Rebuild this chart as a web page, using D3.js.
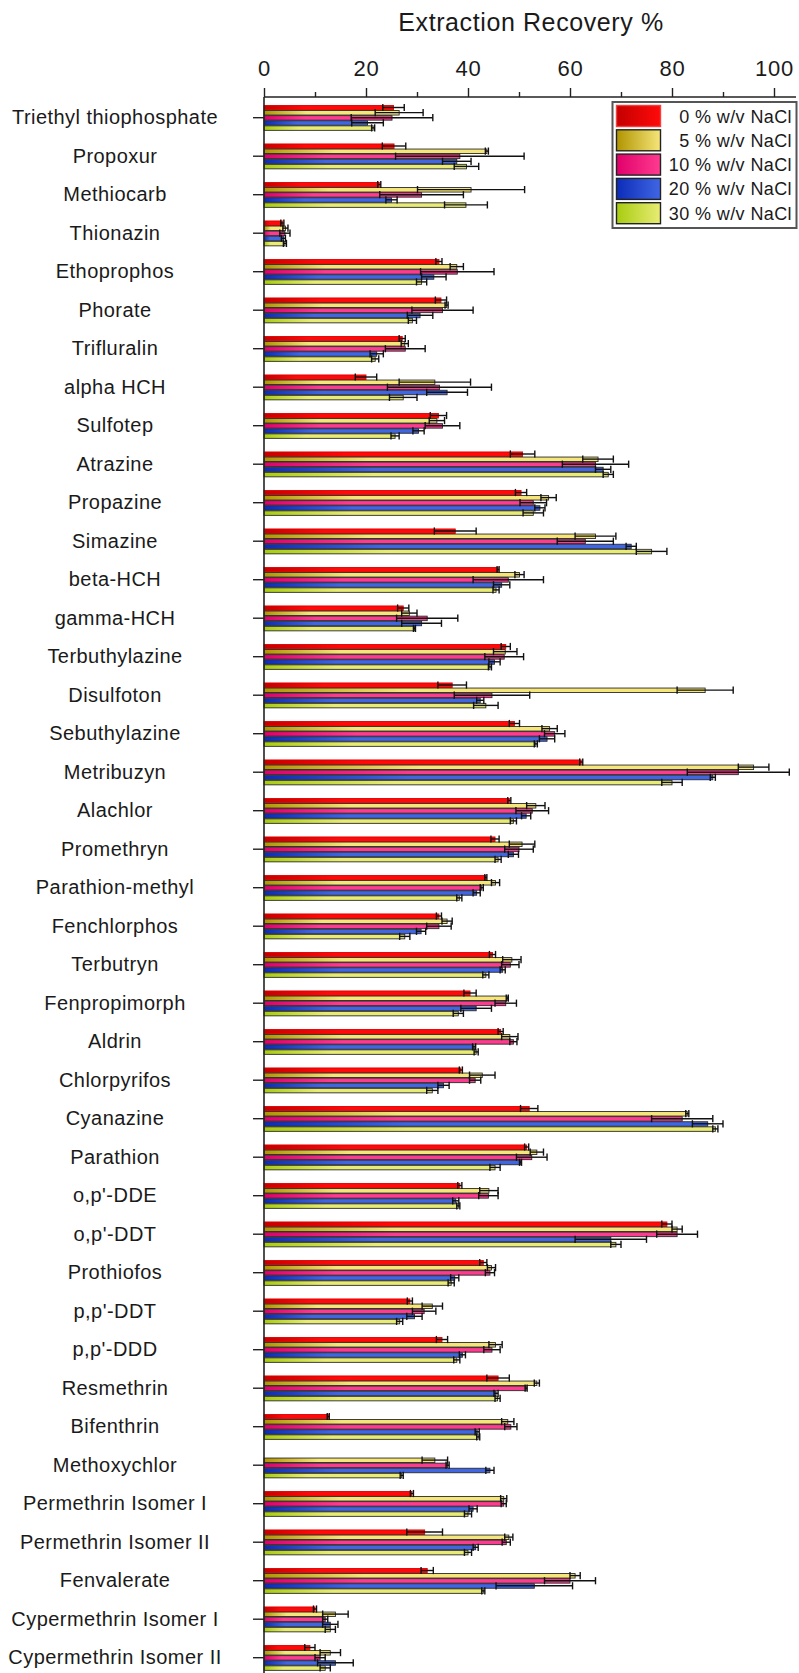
<!DOCTYPE html>
<html>
<head>
<meta charset="utf-8">
<script src="https://cdn.jsdelivr.net/npm/d3@7/dist/d3.min.js"></script>
<style>
  html, body { margin: 0; padding: 0; background: #fff; }
  svg { display: block; font-family: "Liberation Sans", Arial, sans-serif; }
</style>
</head>
<body>
<svg id="chart" width="799" height="1673"></svg>
<script>
// Pesticide list, top to bottom
const categories = [
  "Triethyl thiophosphate", "Propoxur", "Methiocarb", "Thionazin", "Ethoprophos",
  "Phorate", "Trifluralin", "alpha HCH", "Sulfotep", "Atrazine",
  "Propazine", "Simazine", "beta-HCH", "gamma-HCH", "Terbuthylazine",
  "Disulfoton", "Sebuthylazine", "Metribuzyn", "Alachlor", "Promethryn",
  "Parathion-methyl", "Fenchlorphos", "Terbutryn", "Fenpropimorph", "Aldrin",
  "Chlorpyrifos", "Cyanazine", "Parathion", "o,p'-DDE", "o,p'-DDT",
  "Prothiofos", "p,p'-DDT", "p,p'-DDD", "Resmethrin", "Bifenthrin",
  "Methoxychlor", "Permethrin Isomer I", "Permethrin Isomer II", "Fenvalerate",
  "Cypermethrin Isomer I", "Cypermethrin Isomer II"
];

const seriesNames = ["0 % w/v NaCl", "5 % w/v NaCl", "10 % w/v NaCl", "20 % w/v NaCl", "30 % w/v NaCl"];

// Mean extraction recovery (%) per salt level
const nacl0 = [25.4, 25.5, 22.6, 3.6, 34.3, 34.7, 27.1, 20.0, 34.2, 50.7,
  50.4, 37.5, 45.9, 27.3, 47.4, 36.9, 49.1, 62.2, 48.1, 45.3,
  43.5, 34.3, 44.8, 40.4, 46.4, 38.6, 52.0, 51.5, 38.4, 79.0,
  43.0, 28.6, 34.9, 45.9, 12.6, 0.0, 29.0, 31.5, 32.0, 10.0, 9.0];
const nacl5 = [26.5, 43.7, 40.6, 4.2, 37.8, 35.8, 27.6, 33.5, 33.9, 65.5,
  55.8, 65.0, 50.1, 28.5, 47.3, 86.5, 56.0, 96.0, 53.3, 50.6,
  45.4, 35.9, 48.6, 47.7, 48.2, 42.8, 83.0, 53.5, 44.1, 81.0,
  44.6, 33.0, 45.4, 53.5, 47.8, 33.5, 47.0, 48.0, 61.0, 14.0, 13.0];
const nacl10 = [25.1, 38.4, 30.9, 4.1, 37.9, 35.0, 27.7, 34.4, 35.0, 65.0,
  52.8, 63.0, 47.9, 32.0, 47.1, 44.7, 57.0, 93.0, 52.6, 50.0,
  42.7, 34.3, 48.3, 47.4, 48.9, 41.4, 82.0, 52.5, 44.0, 81.0,
  44.3, 31.4, 44.7, 51.4, 48.4, 36.0, 47.0, 47.5, 60.0, 12.0, 11.0];
const nacl20 = [20.3, 37.8, 25.0, 3.8, 33.3, 30.6, 22.1, 35.9, 30.3, 66.5,
  54.1, 72.0, 46.6, 30.9, 45.2, 42.4, 55.5, 88.0, 51.4, 48.9,
  41.7, 30.8, 46.8, 41.6, 41.2, 35.2, 87.0, 50.3, 37.6, 68.0,
  37.4, 29.5, 38.9, 45.5, 41.8, 44.3, 41.0, 41.5, 53.0, 13.0, 14.0];
const nacl30 = [21.4, 39.7, 39.6, 4.1, 30.9, 29.1, 21.8, 27.3, 25.7, 67.5,
  52.8, 76.0, 45.5, 29.5, 44.3, 43.5, 53.3, 80.0, 48.9, 45.9,
  38.3, 27.6, 43.5, 38.1, 41.6, 33.0, 88.5, 45.3, 38.1, 69.0,
  36.7, 26.6, 37.8, 45.8, 42.0, 27.0, 40.0, 40.0, 43.0, 13.0, 12.0];

// Standard deviations (%) per salt level
const err0 = [2.1, 2.3, 0.3, 0.3, 0.6, 1.1, 0.6, 2.1, 1.6, 2.4,
  1.1, 4.1, 0.2, 1.1, 0.9, 2.8, 1.0, 0.3, 0.3, 0.8,
  0.2, 0.5, 0.6, 1.2, 0.5, 0.3, 1.7, 0.4, 0.4, 1.0,
  0.7, 0.5, 1.1, 2.2, 0.2, 0.0, 0.3, 3.5, 1.2, 0.3, 1.0];
const err5 = [4.7, 0.3, 10.5, 0.5, 1.3, 0.3, 0.7, 7.0, 1.5, 3.0,
  1.5, 4.0, 0.9, 1.5, 2.3, 5.5, 1.5, 3.0, 1.8, 2.5,
  0.8, 1.0, 1.8, 0.2, 1.6, 2.5, 0.3, 1.3, 1.8, 1.0,
  0.8, 2.0, 1.3, 0.5, 1.2, 2.5, 0.6, 0.8, 1.0, 2.5, 2.0];
const err10 = [8.0, 12.6, 8.2, 1.0, 7.2, 6.0, 3.9, 10.2, 3.4, 6.5,
  2.6, 5.5, 6.9, 6.0, 3.8, 7.4, 2.0, 10.0, 3.2, 2.8,
  0.3, 2.4, 1.7, 2.1, 0.7, 1.1, 6.0, 3.0, 1.9, 4.0,
  0.9, 2.3, 1.6, 0.2, 1.2, 0.3, 0.5, 0.8, 5.0, 0.5, 1.0];
const err20 = [3.1, 2.8, 1.1, 0.4, 2.4, 2.5, 1.3, 4.0, 1.1, 1.5,
  1.0, 1.0, 1.6, 3.9, 1.1, 0.7, 1.5, 0.5, 0.9, 1.0,
  0.7, 0.9, 0.5, 3.0, 0.3, 1.1, 3.0, 0.2, 0.6, 7.0,
  0.8, 1.5, 0.6, 0.4, 0.4, 0.8, 0.8, 0.5, 7.5, 1.5, 3.5];
const err30 = [0.3, 2.4, 4.2, 0.3, 1.0, 0.8, 0.7, 2.7, 0.8, 1.0,
  2.0, 3.0, 0.6, 0.2, 0.3, 2.4, 0.3, 2.0, 0.6, 0.6,
  0.5, 1.0, 0.6, 1.0, 0.4, 1.1, 0.5, 1.0, 0.3, 1.0,
  0.6, 0.6, 0.6, 0.5, 0.3, 0.3, 0.7, 0.7, 0.3, 1.0, 1.0];

const majorTicks = [0, 20, 40, 60, 80, 100];
const minorTicks = [10, 30, 50, 70, 90];

const seriesValues = [nacl0, nacl5, nacl10, nacl20, nacl30];
const seriesErrors = [err0, err5, err10, err20, err30];

// Fill gradients (dark at the bar's root, light towards its tip) and outlines
const palette = [
  { dark: "#c40000", light: "#ff0a0a", stroke: "#e00000" },
  { dark: "#b09400", light: "#f6e67a", stroke: "#2a2a2a" },
  { dark: "#e0006a", light: "#ff3b90", stroke: "#2a2a2a" },
  { dark: "#0c2cb8", light: "#4066e4", stroke: "#2a2a2a" },
  { dark: "#a8cc10", light: "#e8ec74", stroke: "#2a2a2a" }
];

const svg = d3.select("#chart");
const W = 799, H = 1673;

const x = d3.scaleLinear().domain([0, 100]).range([264, 774]);
const y = d3.scaleBand().domain(categories)
  .range([98.45, 98.45 + 38.5 * categories.length])
  .paddingInner(0.338).paddingOuter(0.169);
const ySub = d3.scaleBand().domain(d3.range(5)).range([0, y.bandwidth()]);

const defs = svg.append("defs");
palette.forEach((p, i) => {
  const g = defs.append("linearGradient").attr("id", "grad" + i)
    .attr("x1", 0).attr("x2", 1).attr("y1", 0).attr("y2", 0);
  g.append("stop").attr("offset", "0%").attr("stop-color", p.dark);
  g.append("stop").attr("offset", "32%").attr("stop-color", p.light);
  g.append("stop").attr("offset", "100%").attr("stop-color", p.light);
  const lg = defs.append("linearGradient").attr("id", "lgrad" + i)
    .attr("x1", 0).attr("x2", 1).attr("y1", 0).attr("y2", 0);
  lg.append("stop").attr("offset", "0%").attr("stop-color", p.dark);
  lg.append("stop").attr("offset", "100%").attr("stop-color", p.light);
});

// Title
svg.append("text")
  .attr("x", 531).attr("y", 31)
  .attr("text-anchor", "middle")
  .attr("font-size", 25).attr("letter-spacing", 0.6)
  .attr("fill", "#1a1a1a")
  .text("Extraction Recovery %");

// Top axis: major ticks with labels, minor ticks without
const topAxis = svg.append("g").attr("transform", "translate(0,97)")
  .call(d3.axisTop(x).tickValues(majorTicks).tickSize(9).tickSizeOuter(0).tickPadding(12));
topAxis.select(".domain").remove();
topAxis.selectAll("line").attr("stroke", "#222").attr("stroke-width", 1.4);
topAxis.selectAll("text").attr("font-size", 22).attr("letter-spacing", 0.8)
  .attr("fill", "#1a1a1a").attr("font-family", "Liberation Sans, Arial, sans-serif");

const minorAxis = svg.append("g").attr("transform", "translate(0,97)")
  .call(d3.axisTop(x).tickValues(minorTicks).tickSize(5).tickSizeOuter(0).tickFormat(""));
minorAxis.select(".domain").remove();
minorAxis.selectAll("line").attr("stroke", "#222").attr("stroke-width", 1.4);

// Frame line across the top
svg.append("line")
  .attr("x1", x(0)).attr("x2", 796).attr("y1", 97).attr("y2", 97)
  .attr("stroke", "#222").attr("stroke-width", 1.6);

// Bars
const groups = svg.append("g").selectAll("g")
  .data(categories).join("g")
  .attr("transform", d => `translate(0,${y(d)})`);

groups.each(function (cat, ci) {
  const g = d3.select(this);
  seriesValues.forEach((vals, si) => {
    const v = vals[ci];
    if (v <= 0) return;
    g.append("rect")
      .attr("x", x(0))
      .attr("y", ySub(si) + 0.5)
      .attr("width", x(v) - x(0))
      .attr("height", ySub.bandwidth() - 0.6)
      .attr("fill", `url(#grad${si})`)
      .attr("stroke", palette[si].stroke)
      .attr("stroke-width", 0.9);
  });
});

// Error bars on top of all bars
groups.each(function (cat, ci) {
  const g = d3.select(this);
  seriesValues.forEach((vals, si) => {
    const v = vals[ci], e = seriesErrors[si][ci];
    if (v <= 0) return;
    const cy = ySub(si) + ySub.bandwidth() / 2;
    const lo = x(v - e), hi = x(v + e);
    const eb = g.append("g").attr("stroke", "#111").attr("stroke-width", 1.4);
    eb.append("line").attr("x1", lo).attr("x2", hi).attr("y1", cy).attr("y2", cy);
    [lo, hi].forEach(px => eb.append("line")
      .attr("x1", px).attr("x2", px).attr("y1", cy - 3.6).attr("y2", cy + 3.6));
  });
});

// Left axis with category ticks; labels centred in the left margin
const leftAxis = svg.append("g").attr("transform", `translate(${x(0)},0)`)
  .call(d3.axisLeft(y).tickSize(11).tickSizeOuter(0));
leftAxis.select(".domain").attr("stroke", "#222").attr("stroke-width", 1.6)
  .attr("d", `M0,97V${H}`);
leftAxis.selectAll("line").attr("stroke", "#222").attr("stroke-width", 1.4);
leftAxis.selectAll("text")
  .attr("x", 115 - x(0)).attr("text-anchor", "middle")
  .attr("font-size", 20).attr("letter-spacing", 0.45)
  .attr("fill", "#1a1a1a").attr("font-family", "Liberation Sans, Arial, sans-serif");

// Legend
const legend = svg.append("g");
legend.append("rect")
  .attr("x", 612.5).attr("y", 102).attr("width", 184).attr("height", 126)
  .attr("fill", "#fff").attr("stroke", "#555").attr("stroke-width", 2);
seriesNames.forEach((name, i) => {
  const cy = 116 + i * 24.3;
  legend.append("rect")
    .attr("x", 616.5).attr("y", cy - 10.5).attr("width", 44).attr("height", 21)
    .attr("fill", `url(#lgrad${i})`)
    .attr("stroke", i === 0 ? "#f04040" : "#222").attr("stroke-width", 1.4);
  legend.append("text")
    .attr("x", 792).attr("y", cy + 6.5)
    .attr("text-anchor", "end")
    .attr("font-size", 18).attr("letter-spacing", 0.4)
    .attr("fill", "#1a1a1a")
    .text(name);
});
</script>
</body>
</html>
